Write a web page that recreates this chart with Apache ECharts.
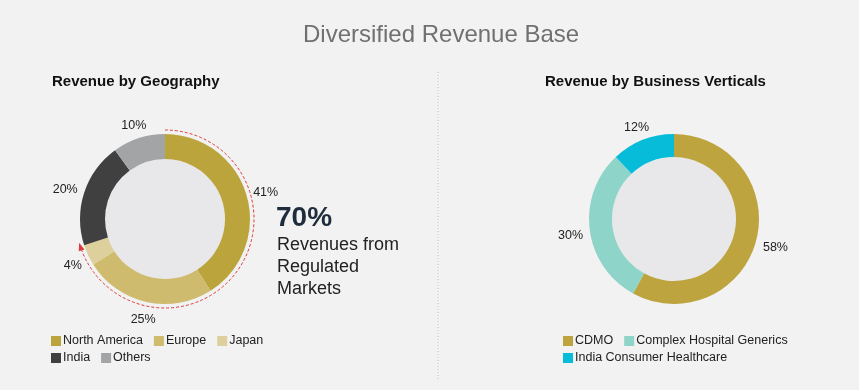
<!DOCTYPE html>
<html><head><meta charset="utf-8">
<script src="https://cdn.jsdelivr.net/npm/echarts@6/dist/echarts.min.js"></script>
<style>html,body{margin:0;padding:0;background:#f2f2f2}#c{width:859px;height:390px}</style>
</head><body><div id="c"></div>
<script>
// ---- data ----
const geoCategories = ['North America', 'Europe', 'Japan', 'India', 'Others'];
const geoValues = [41, 25, 4, 20, 10];
const geoRegulatedCategories = ['North America', 'Europe', 'Japan'];
const bizCategories = ['CDMO', 'Complex Hospital Generics', 'India Consumer Healthcare'];
const bizValues = [58, 30, 12];

// ---- styles ----
const geoColors = ['#bba43c', '#cfbb6d', '#ddd09c', '#404040', '#a3a4a6'];
const bizColors = ['#bda43f', '#8ed4c8', '#06bcd8'];
const FONT = 'Liberation Sans';
const leftC = [165, 219], rightC = [674, 219];
const rOut = 85;

const total = a => a.reduce((s, v) => s + v, 0);
const regulatedPct = total(geoValues.filter((v, i) => geoRegulatedCategories.includes(geoCategories[i])));
const regulatedFrac = regulatedPct / total(geoValues);

function labelLayoutFor(values, c) {
  const t = total(values);
  return function (p) {
    const i = p.dataIndex;
    let before = 0;
    for (let j = 0; j < i; j++) before += values[j];
    const mid = (before + values[i] / 2) / t * Math.PI * 2;
    const s = Math.sin(mid), co = Math.cos(mid);
    const w = p.labelRect.width, h = p.labelRect.height;
    const r = rOut + 6 + w / 2 * Math.abs(s) + h / 2 * Math.abs(co);
    return { x: c[0] + r * s, y: c[1] - r * co + 3, align: 'center', verticalAlign: 'middle' };
  };
}

function donut(name, cats, vals, colors, c, rIn) {
  return {
    type: 'pie', name, center: c, radius: [rIn, rOut], startAngle: 90, clockwise: true,
    avoidLabelOverlap: false, silent: true,
    data: cats.map((n, i) => ({ name: n, value: vals[i], itemStyle: { color: colors[i] } })),
    label: { show: true, position: 'outside', formatter: '{c}%', color: '#222', fontSize: 12.5, fontFamily: FONT },
    labelLine: { show: false, length: 5, length2: 0 },
    labelLayout: labelLayoutFor(vals, c)
  };
}
function innerFill(c, r) {
  return { type: 'pie', center: c, radius: [0, r], silent: true, label: { show: false }, labelLine: { show: false },
    data: [{ value: 1, name: '', itemStyle: { color: '#e8e8ea' } }] };
}

const chart = echarts.init(document.getElementById('c'));
const arcR = 89;
const endA = -Math.PI / 2 + regulatedFrac * Math.PI * 2;
const ex = leftC[0] + arcR * Math.cos(endA), ey = leftC[1] + arcR * Math.sin(endA);
const tx = -Math.sin(endA), ty = Math.cos(endA);
const nx = Math.cos(endA), ny = Math.sin(endA);
const tip = [ex + tx * 4, ey + ty * 4];
const b1 = [ex - tx * 4 + nx * 3, ey - ty * 4 + ny * 3];
const b2 = [ex - tx * 4 - nx * 3, ey - ty * 4 - ny * 3];

const legendText = { color: '#222', fontSize: 12.5, fontFamily: FONT, lineHeight: 14, padding: [0, 8, 0, -3] };

chart.setOption({
  backgroundColor: '#f2f2f2',
  animation: false,
  title: [
    { text: 'Diversified Revenue Base', left: 298, top: 18, textStyle: { color: '#707070', fontSize: 24, fontWeight: 'normal', fontFamily: FONT } },
    { text: 'Revenue by Geography', left: 47, top: 69, textStyle: { color: '#111', fontSize: 15, fontWeight: 'bold', fontFamily: FONT } },
    { text: 'Revenue by Business Verticals', left: 540, top: 69, textStyle: { color: '#111', fontSize: 15, fontWeight: 'bold', fontFamily: FONT } },
    { text: regulatedPct + '%', left: 271, top: 199, textStyle: { color: '#1e2c3c', fontSize: 28, fontWeight: 'bold', fontFamily: FONT } },
    { text: 'Revenues from\nRegulated\nMarkets', left: 272, top: 229, textStyle: { color: '#222', fontSize: 18, lineHeight: 22, fontWeight: 'normal', fontFamily: FONT } }
  ],
  legend: [
    { data: geoCategories, left: 46, top: 329, width: 240, itemWidth: 10, itemHeight: 10, itemGap: 3, icon: 'rect', textStyle: legendText },
    { data: bizCategories, left: 558, top: 329, width: 240, itemWidth: 10, itemHeight: 10, itemGap: 3, icon: 'rect', textStyle: legendText }
  ],
  graphic: [
    { type: 'line', shape: { x1: 438, y1: 72, x2: 438, y2: 380 }, style: { stroke: '#c4c4c4', lineWidth: 1, lineDash: [1, 2] }, silent: true },
    { type: 'arc', shape: { cx: leftC[0], cy: leftC[1], r: arcR, startAngle: -Math.PI / 2, endAngle: endA, clockwise: true },
      style: { stroke: '#e03a3a', lineWidth: 1, lineDash: [3, 2], fill: null }, silent: true, z: 10 },
    { type: 'polygon', shape: { points: [tip, b1, b2] }, style: { fill: '#e03a3a' }, silent: true, z: 10 }
  ],
  series: [
    innerFill(leftC, 60),
    innerFill(rightC, 62),
    donut('Geography', geoCategories, geoValues, geoColors, leftC, 60),
    donut('Business', bizCategories, bizValues, bizColors, rightC, 62)
  ]
});
</script></body></html>
